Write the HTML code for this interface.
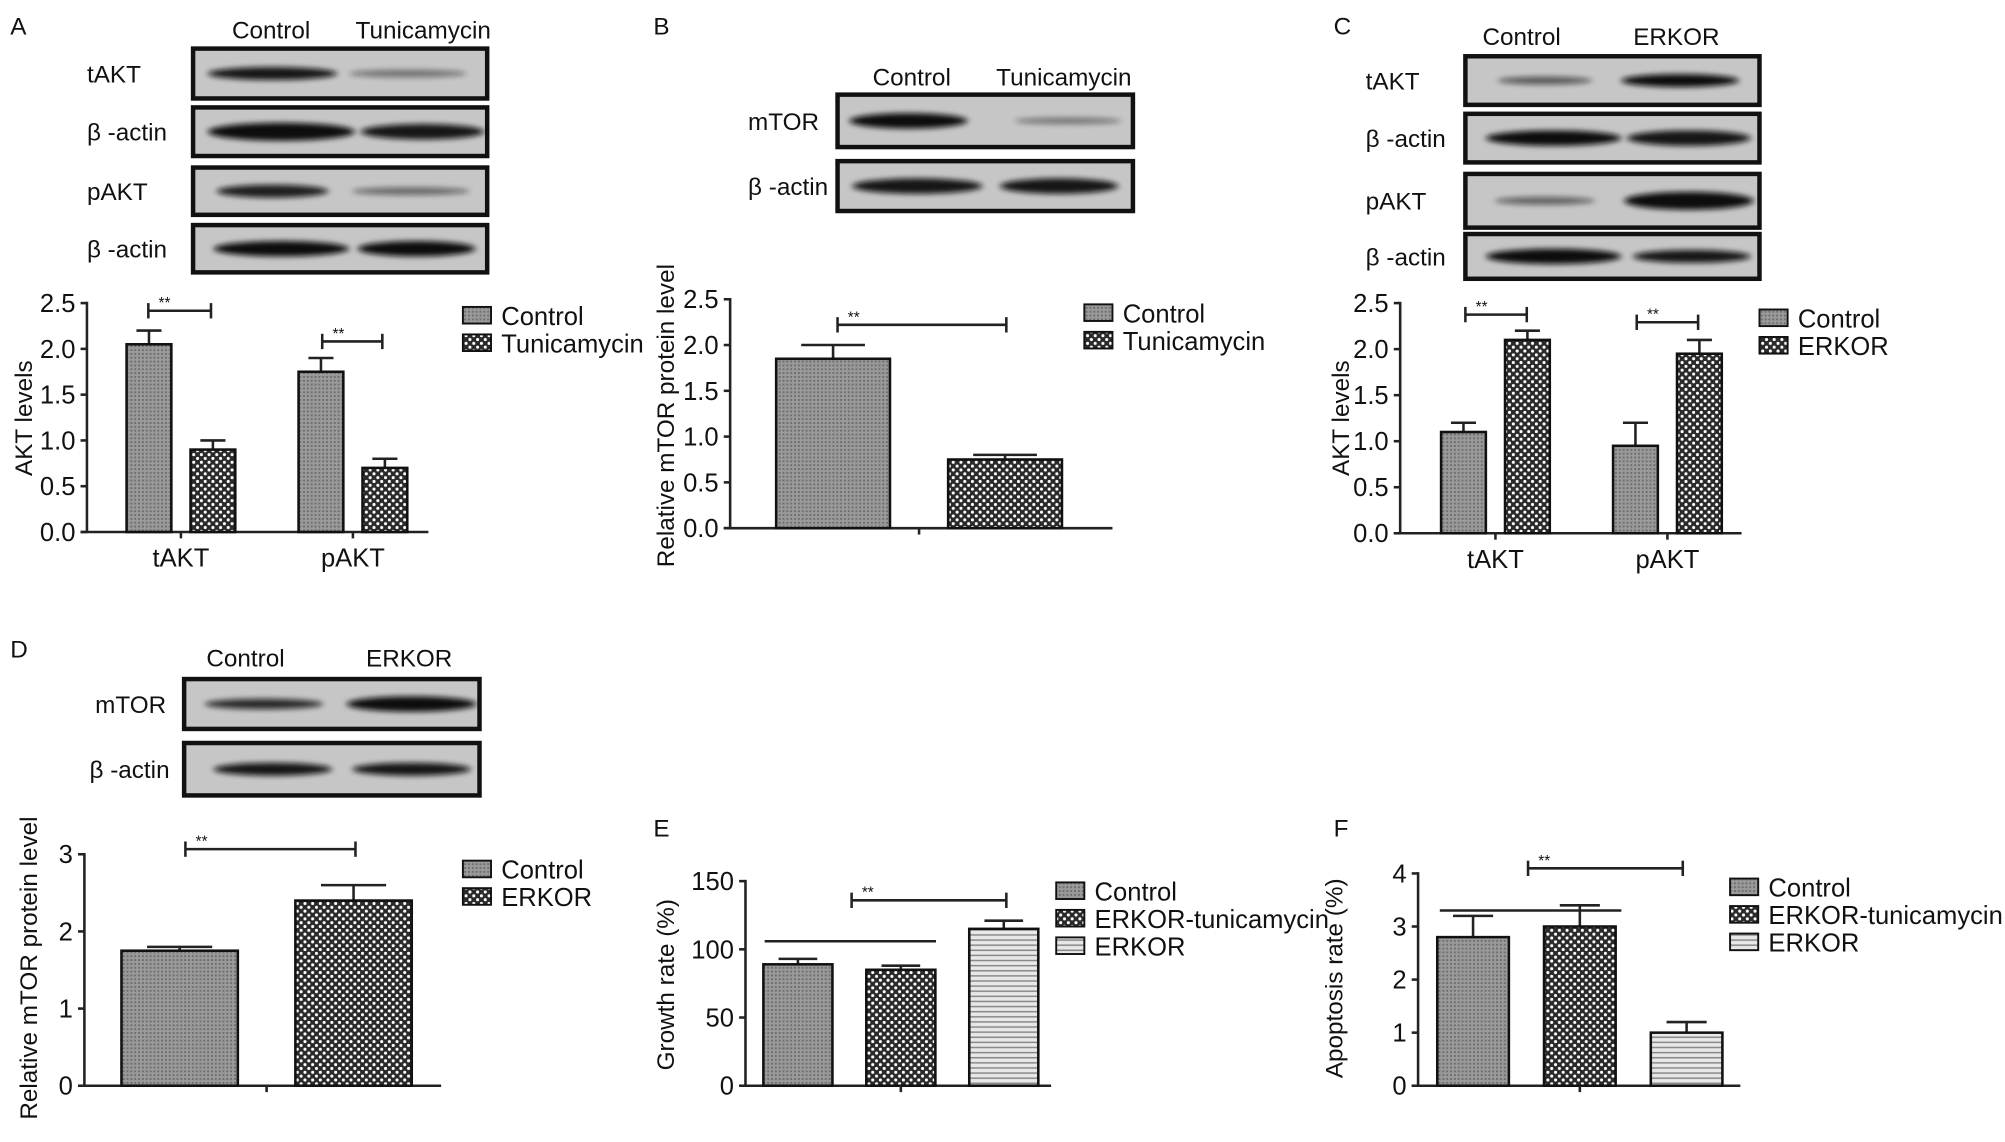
<!DOCTYPE html>
<html><head><meta charset="utf-8"><style>
html,body{margin:0;padding:0;background:#fff;}
svg{display:block;font-family:"Liberation Sans",Arial,sans-serif;}
</style></head><body>
<svg id="fig" width="2005" height="1142" viewBox="0 0 1568 893" preserveAspectRatio="none" xmlns="http://www.w3.org/2000/svg">
<defs>
<pattern id="pCtrl" width="3" height="3" patternUnits="userSpaceOnUse"><rect width="3" height="3" fill="#9a9a9a"/><rect width="1.5" height="1.5" fill="#6e6e6e"/></pattern>
<pattern id="pChk" width="6" height="6" patternUnits="userSpaceOnUse"><rect width="6" height="6" fill="#2a2a2a"/><circle cx="1.5" cy="1.5" r="1.2" fill="#fff"/><circle cx="4.5" cy="4.5" r="1.2" fill="#fff"/></pattern>
<pattern id="pStripe" width="4" height="4" patternUnits="userSpaceOnUse"><rect width="4" height="4" fill="#e8e8e8"/><rect y="2.5" width="4" height="1.2" fill="#8a8a8a"/></pattern>
<filter id="blur" x="-20%" y="-100%" width="140%" height="300%"><feGaussianBlur stdDeviation="2.5 2"/></filter>
</defs>
<g id="root"></g>
</svg>
<script>
// ---------- data ----------
const aCats = ['tAKT','pAKT'];
const aControl = [2.05, 1.75];
const aControlErr = [0.15, 0.15];
const aTunica = [0.9, 0.7];
const aTunicaErr = [0.1, 0.1];
const aTicks = [0, 0.5, 1.0, 1.5, 2.0, 2.5];

const bCats = ['Control','Tunicamycin'];
const bVals = [1.85, 0.75];
const bErr = [0.15, 0.05];
const bTicks = [0, 0.5, 1.0, 1.5, 2.0, 2.5];

const cCats = ['tAKT','pAKT'];
const cControl = [1.1, 0.95];
const cControlErr = [0.1, 0.25];
const cErkor = [2.1, 1.95];
const cErkorErr = [0.1, 0.15];
const cTicks = [0, 0.5, 1.0, 1.5, 2.0, 2.5];

const dCats = ['Control','ERKOR'];
const dVals = [1.75, 2.4];
const dErr = [0.05, 0.2];
const dTicks = [0, 1, 2, 3];

const eCats = ['Control','ERKOR-tunicamycin','ERKOR'];
const eVals = [89, 85, 115];
const eErr = [4, 3, 6];
const eTicks = [0, 50, 100, 150];

const fCats = ['Control','ERKOR-tunicamycin','ERKOR'];
const fVals = [2.8, 3.0, 1.0];
const fErr = [0.4, 0.4, 0.2];
const fTicks = [0, 1, 2, 3, 4];

// ---------- helpers ----------
const NS = 'http://www.w3.org/2000/svg';
const root = document.getElementById('root');
function mk(tag, attrs, parent, text){
  const e = document.createElementNS(NS, tag);
  for (const k in attrs) e.setAttribute(k, attrs[k]);
  if (text !== undefined) e.textContent = text;
  (parent || root).appendChild(e);
  return e;
}
function txt(x, y, s, size, parent, anchor, name){
  const t = mk('text', {x:x, y:y, 'font-size':size, fill:'#111', 'text-anchor':anchor||'start'}, parent, s);
  
  
  return t;
}
function yScale(v, y0, yTop, max){ return y0 - (v/max)*(y0-yTop); }

function axes(g, o, ticks){
  const ax = mk('line', {x1:o.ax, y1:o.yTop-1, x2:o.ax, y2:o.y0, stroke:'#222','stroke-width':2}, g);
  
  
  const xx = mk('line', {x1:o.ax-5, y1:o.y0, x2:o.x1, y2:o.y0, stroke:'#222','stroke-width':2}, g);
  
  
  ticks.forEach(function(t){
    const y = yScale(t, o.y0, o.yTop, o.max);
    mk('line', {x1:o.ax-5, y1:y, x2:o.ax, y2:y, stroke:'#222','stroke-width':2}, g);
    const lbl = o.fmt ? o.fmt(t) : String(t);
    txt(o.ax-9, y+7, lbl, 20, g, 'end', 'y-tick-label');
  });
  const yt = mk('text', {x:0, y:0, 'font-size':19, fill:'#111','text-anchor':'middle',
    transform:'translate('+o.titleX+','+o.titleY+') rotate(-90)'}, g, o.title);
  
  
}
function bar(g, x, w, v, e, pat, o, name){
  const yt = yScale(v, o.y0, o.yTop, o.max);
  const ye = yScale(v+e, o.y0, o.yTop, o.max);
  const cx = x + w/2;
  const el = mk('line', {x1:cx, y1:yt, x2:cx, y2:ye, stroke:'#222','stroke-width':2}, g);
  
  
  mk('line', {x1:cx-w*0.28, y1:ye, x2:cx+w*0.28, y2:ye, stroke:'#222','stroke-width':2}, g);
  const r = mk('rect', {x:x, y:yt, width:w, height:o.y0-yt, fill:'url(#'+pat+')', stroke:'#111','stroke-width':2}, g);
  
  
}
function bracket(g, x1, x2, y){
  const l = mk('line', {x1:x1, y1:y, x2:x2, y2:y, stroke:'#222','stroke-width':2}, g);
  
  
  mk('line', {x1:x1, y1:y-6, x2:x1, y2:y+6, stroke:'#222','stroke-width':2}, g);
  mk('line', {x1:x2, y1:y-6, x2:x2, y2:y+6, stroke:'#222','stroke-width':2}, g);
  txt(x1+8, y-2, '**', 12, g, 'start', 'significance-label');
}
function hline(g, x1, x2, y){
  const l = mk('line', {x1:x1, y1:y, x2:x2, y2:y, stroke:'#222','stroke-width':2}, g);
  
  
}
function legend(g, x, y, items){
  items.forEach(function(it, i){
    const yy = y + i*21.5;
    const sw = mk('rect', {x:x, y:yy-7, width:22, height:13, fill:'url(#'+it[1]+')', stroke:'#111','stroke-width':1.5}, g);
    
    
    txt(x+30, yy+7, it[0], 20, g, 'start', 'legend-entry');
  });
}
function blot(g, x, y, w, h, label, lanes, labelX, anchor){
  const r = mk('rect', {x:x, y:y, width:w, height:h, fill:'#c6c6c6', stroke:'#111','stroke-width':3.5}, g);
  
  
  lanes.forEach(function(l){
    mk('ellipse', {cx:x+w*l[0], cy:y+h/2, rx:w*l[1], ry:l[2], fill:'#111', opacity:l[3], filter:'url(#blur)'}, g);
  });
  txt(labelX, y+h/2+7, label, 19, g, anchor||'start', 'blot-label');
}
function grouped(g, o, cats, s1, e1, s2, e2, p1, p2, labelY){
  cats.forEach(function(c, i){
    const cx = o.c0 + o.band*i;
    bar(g, cx-o.bw-o.gap/2, o.bw, s1[i], e1[i], p1, o, 'bar-control-'+c);
    bar(g, cx+o.gap/2, o.bw, s2[i], e2[i], p2, o, 'bar-treated-'+c);
    mk('line', {x1:cx, y1:o.y0, x2:cx, y2:o.y0+5, stroke:'#222','stroke-width':2}, g);
    txt(cx, labelY, c, 20, g, 'middle', 'x-tick-label');
  });
}
function simple(g, o, cats, vals, errs, pats){
  cats.forEach(function(c, i){
    const cx = o.c0 + o.band*i;
    bar(g, cx-o.bw/2, o.bw, vals[i], errs[i], pats[i], o, 'bar-'+c.toLowerCase());
  });
  const mid = o.c0 + o.band*(cats.length-1)/2;
  mk('line', {x1:mid, y1:o.y0, x2:mid, y2:o.y0+5, stroke:'#222','stroke-width':2}, g);
}
function panel(name){ const g = mk('g', {});   return g; }

// ---------- Panel A ----------
(function(){
  const g = panel('panel-a');
  txt(8, 27, 'A', 19, g, 'start', 'panel-letter');
  txt(212, 30, 'Control', 19, g, 'middle', 'lane-header');
  txt(331, 30, 'Tunicamycin', 19, g, 'middle', 'lane-header');
  blot(g, 151, 38, 230, 39, 'tAKT', [[0.27,0.22,5,0.95],[0.73,0.2,3,0.45]], 68);
  blot(g, 151, 84, 230, 38, 'β -actin', [[0.3,0.25,7,1],[0.78,0.21,6,0.95]], 68);
  blot(g, 151, 131, 230, 37, 'pAKT', [[0.27,0.19,5,0.9],[0.74,0.2,3,0.5]], 68);
  blot(g, 151, 176, 230, 37, 'β -actin', [[0.3,0.23,6,1],[0.76,0.2,6,1]], 68);
  const o = {ax:68, x1:335, y0:416, yTop:237, max:2.5, fmt:function(t){return t.toFixed(1);},
    title:'AKT levels', titleX:25, titleY:327, bw:35, gap:15, c0:141.5, band:134.5};
  axes(g, o, aTicks);
  grouped(g, o, aCats, aControl, aControlErr, aTunica, aTunicaErr, 'pCtrl', 'pChk', 443);
  bracket(g, 116, 165, 243);
  bracket(g, 252, 299, 267);
  legend(g, 362, 247, [['Control','pCtrl'],['Tunicamycin','pChk']]);
})();

// ---------- Panel B ----------
(function(){
  const g = panel('panel-b');
  txt(511, 27, 'B', 19, g, 'start', 'panel-letter');
  txt(713, 67, 'Control', 19, g, 'middle', 'lane-header');
  txt(832, 67, 'Tunicamycin', 19, g, 'middle', 'lane-header');
  blot(g, 655, 74, 231, 41, 'mTOR', [[0.24,0.2,6,1],[0.78,0.18,2.5,0.45]], 585);
  blot(g, 655, 126, 231, 39, 'β -actin', [[0.27,0.22,6,0.95],[0.75,0.2,6,0.95]], 585);
  const o = {ax:571, x1:870, y0:413, yTop:234, max:2.5, fmt:function(t){return t.toFixed(1);},
    title:'Relative mTOR protein level', titleX:527, titleY:325, bw:89, c0:651.5, band:134.5};
  axes(g, o, bTicks);
  simple(g, o, bCats, bVals, bErr, ['pCtrl','pChk']);
  bracket(g, 655, 787, 254);
  legend(g, 848, 245, [['Control','pCtrl'],['Tunicamycin','pChk']]);
})();

// ---------- Panel C ----------
(function(){
  const g = panel('panel-c');
  txt(1043, 27, 'C', 19, g, 'start', 'panel-letter');
  txt(1190, 35, 'Control', 19, g, 'middle', 'lane-header');
  txt(1311, 35, 'ERKOR', 19, g, 'middle', 'lane-header');
  blot(g, 1146, 44, 230, 38, 'tAKT', [[0.27,0.16,3,0.6],[0.73,0.2,5,1]], 1068);
  blot(g, 1146, 89, 230, 38, 'β -actin', [[0.3,0.23,6,1],[0.76,0.21,6,0.95]], 1068);
  blot(g, 1146, 136, 230, 42, 'pAKT', [[0.27,0.17,3,0.55],[0.76,0.22,7,1]], 1068);
  blot(g, 1146, 183, 230, 35, 'β -actin', [[0.3,0.23,6,1],[0.77,0.2,5,0.95]], 1068);
  const o = {ax:1095, x1:1362, y0:417, yTop:237, max:2.5, fmt:function(t){return t.toFixed(1);},
    title:'AKT levels', titleX:1055, titleY:327, bw:35, gap:15, c0:1169.5, band:134.5};
  axes(g, o, cTicks);
  grouped(g, o, cCats, cControl, cControlErr, cErkor, cErkorErr, 'pCtrl', 'pChk', 444);
  bracket(g, 1146, 1194, 246);
  bracket(g, 1280, 1328, 252);
  legend(g, 1376, 249, [['Control','pCtrl'],['ERKOR','pChk']]);
})();

// ---------- Panel D ----------
(function(){
  const g = panel('panel-d');
  txt(8, 514, 'D', 19, g, 'start', 'panel-letter');
  txt(192, 521, 'Control', 19, g, 'middle', 'lane-header');
  txt(320, 521, 'ERKOR', 19, g, 'middle', 'lane-header');
  blot(g, 144, 531, 231, 39, 'mTOR', [[0.27,0.2,4,0.85],[0.77,0.22,6,1]], 130, 'end');
  blot(g, 144, 581, 231, 41, 'β -actin', [[0.3,0.2,5,0.95],[0.77,0.2,5,0.95]], 70);
  const o = {ax:66, x1:345, y0:849, yTop:668, max:3,
    title:'Relative mTOR protein level', titleX:29, titleY:757, bw:91, c0:140.5, band:136};
  axes(g, o, dTicks);
  simple(g, o, dCats, dVals, dErr, ['pCtrl','pChk']);
  bracket(g, 145, 278, 664);
  legend(g, 362, 680, [['Control','pCtrl'],['ERKOR','pChk']]);
})();

// ---------- Panel E ----------
(function(){
  const g = panel('panel-e');
  txt(511, 654, 'E', 19, g, 'start', 'panel-letter');
  const o = {ax:583, x1:822, y0:849, yTop:689, max:150,
    title:'Growth rate (%)', titleX:527, titleY:770, bw:54, c0:624, band:80.5};
  axes(g, o, eTicks);
  simple(g, o, eCats, eVals, eErr, ['pCtrl','pChk','pStripe']);
  bracket(g, 666, 787, 704);
  hline(g, 598, 732, 736);
  legend(g, 826, 697, [['Control','pCtrl'],['ERKOR-tunicamycin','pChk'],['ERKOR','pStripe']]);
})();

// ---------- Panel F ----------
(function(){
  const g = panel('panel-f');
  txt(1043, 654, 'F', 19, g, 'start', 'panel-letter');
  const o = {ax:1109, x1:1361, y0:849, yTop:683, max:4,
    title:'Apoptosis rate (%)', titleX:1050, titleY:765, bw:56, c0:1152, band:83.5};
  axes(g, o, fTicks);
  simple(g, o, fCats, fVals, fErr, ['pCtrl','pChk','pStripe']);
  bracket(g, 1195, 1316, 679);
  hline(g, 1126, 1268, 712);
  legend(g, 1353, 694, [['Control','pCtrl'],['ERKOR-tunicamycin','pChk'],['ERKOR','pStripe']]);
})();
</script>
</body></html>
